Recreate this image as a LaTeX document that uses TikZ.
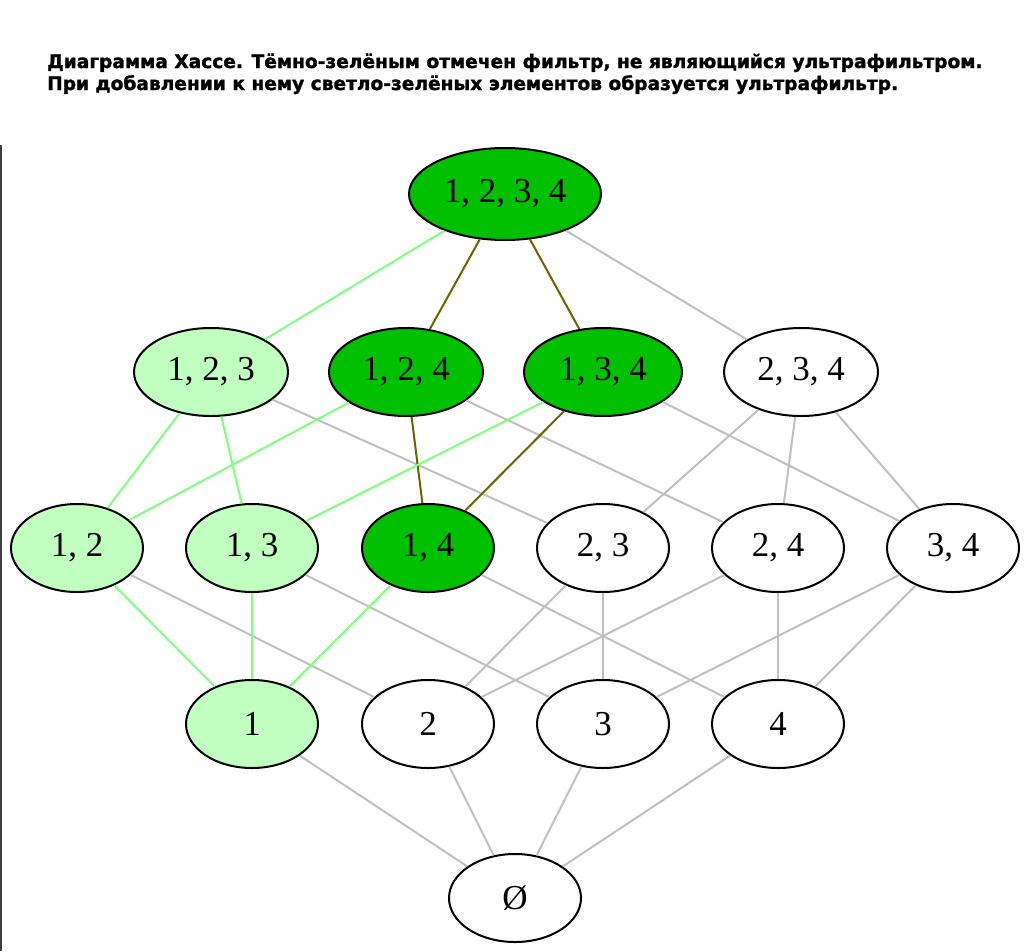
\documentclass[tikz,border=0pt]{standalone}
\usepackage{fontspec}
\setmainfont{Liberation Serif}
\newfontfamily\titlefont{DejaVu Sans}[FakeBold=1.6]
\usetikzlibrary{shapes.geometric}
\definecolor{dkgreen}{HTML}{00C000}
\definecolor{ltgreen}{HTML}{C0FFC0}
\definecolor{egreen}{HTML}{80FF80}
\definecolor{eolive}{HTML}{666600}
\definecolor{egray}{HTML}{C0C0C0}
\definecolor{frame}{HTML}{404040}
\tikzset{
  setnode/.style={ellipse, draw=black, line width=2pt, inner sep=0pt,
    minimum width=132pt, minimum height=88pt, font=\fontsize{35}{35}\selectfont},
  dk/.style={setnode, fill=dkgreen},
  lt/.style={setnode, fill=ltgreen},
  wh/.style={setnode, fill=white},
  eg/.style={draw=egreen, line width=2pt},
  eo/.style={draw=eolive, line width=2pt},
  ew/.style={draw=egray, line width=2pt},
}
\begin{document}
\begin{tikzpicture}[x=1pt,y=-1pt]
\useasboundingbox (0,0) rectangle (1024,951);
\fill[white] (0,0) rectangle (1024,951);
\draw[frame, line width=1.5pt] (0.75,145) -- (0.75,951);
\node[anchor=base west, align=left, inner sep=0pt, font=\titlefont\bfseries\fontsize{18.6}{22}\selectfont] (title) at (47,90)
  {Диаграмма Хассе. Тёмно-зелёным отмечен фильтр, не являющийся ультрафильтром.\\При добавлении к нему светло-зелёных элементов образуется ультрафильтр.};

\node[dk, minimum width=192pt, minimum height=92pt] (n1234) at (505,194) {1, 2, 3, 4};

\node[lt, minimum width=154pt] (n123) at (211,372) {1, 2, 3};
\node[dk, minimum width=154pt] (n124) at (406,372) {1, 2, 4};
\node[dk, minimum width=158pt] (n134) at (603,372) {1, 3, 4};
\node[wh, minimum width=154pt] (n234) at (801,372) {2, 3, 4};

\node[lt] (n12) at (77,548) {1, 2};
\node[lt] (n13) at (252,548) {1, 3};
\node[dk] (n14) at (428,548) {1, 4};
\node[wh] (n23) at (603,548) {2, 3};
\node[wh] (n24) at (778,548) {2, 4};
\node[wh] (n34) at (953,548) {3, 4};

\node[lt] (n1) at (252,724) {1};
\node[wh] (n2) at (428,724) {2};
\node[wh] (n3) at (603,724) {3};
\node[wh] (n4) at (778,724) {4};

\node[wh] (n0) at (515,898) {Ø};

\path[eg] (n1234) -- (n123);
\path[eo] (n1234) -- (n124);
\path[eo] (n1234) -- (n134);
\path[ew] (n1234) -- (n234);

\path[eg] (n123) -- (n12);
\path[eg] (n123) -- (n13);
\path[ew] (n123) -- (n23);
\path[eg] (n124) -- (n12);
\path[eo] (n124) -- (n14);
\path[ew] (n124) -- (n24);
\path[eg] (n134) -- (n13);
\path[eo] (n134) -- (n14);
\path[ew] (n134) -- (n34);
\path[ew] (n234) -- (n23);
\path[ew] (n234) -- (n24);
\path[ew] (n234) -- (n34);

\path[eg] (n12) -- (n1);
\path[ew] (n12) -- (n2);
\path[eg] (n13) -- (n1);
\path[ew] (n13) -- (n3);
\path[eg] (n14) -- (n1);
\path[ew] (n14) -- (n4);
\path[ew] (n23) -- (n2);
\path[ew] (n23) -- (n3);
\path[ew] (n24) -- (n2);
\path[ew] (n24) -- (n4);
\path[ew] (n34) -- (n3);
\path[ew] (n34) -- (n4);

\path[ew] (n1) -- (n0);
\path[ew] (n2) -- (n0);
\path[ew] (n3) -- (n0);
\path[ew] (n4) -- (n0);
\end{tikzpicture}
\end{document}
